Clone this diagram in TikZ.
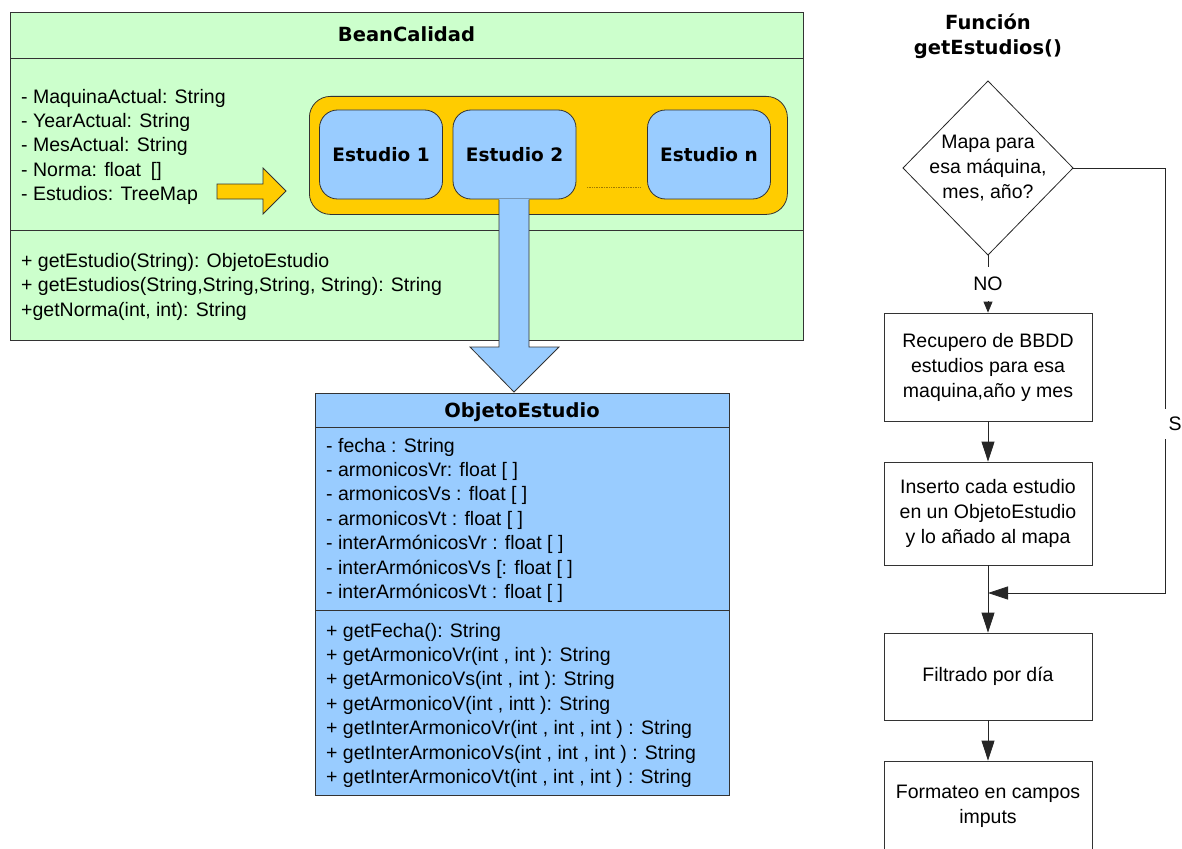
\documentclass[tikz,border=0pt]{standalone}
\usepackage{fontspec}
\setmainfont{Liberation Sans}
\newfontfamily\hdfont{DejaVu Sans}
\usetikzlibrary{arrows.meta}
\definecolor{beangreen}{HTML}{CCFFCC}
\definecolor{objblue}{HTML}{99CCFF}
\definecolor{mapyellow}{HTML}{FFCC00}
\definecolor{edge}{HTML}{333333}
\definecolor{dotcol}{HTML}{A07A00}
\begin{document}
\begin{tikzpicture}[x=1pt,y=-1pt,
  txt/.style={font=\fontsize{19.5}{24}\selectfont, inner sep=0pt, anchor=base west},
  head/.style={font=\hdfont\bfseries\fontsize{19.5}{25}\selectfont, inner sep=0pt},
  flow/.style={font=\fontsize{19.5}{25}\selectfont, align=center, inner sep=0pt},
  boxline/.style={draw=edge, line width=0.8pt},
  classbox/.style={boxline, anchor=north west, inner sep=0pt},
  procbox/.style={flow, boxline, fill=white, minimum width=208pt},
  estudio/.style={boxline, fill=objblue, rounded corners=18pt, minimum width=123pt,
    minimum height=89pt, inner sep=0pt, font=\hdfont\bfseries\fontsize{18.5}{22}\selectfont},
  flowline/.style={draw=black!85, line width=0.8pt},
  flowarrow/.style={flowline, -{Triangle[length=20pt,width=13pt]}},
  smallarrow/.style={flowline, -{Triangle[length=11pt,width=9pt]}}
]
\useasboundingbox (0,0) rectangle (1182,848);

% ---------- class BeanCalidad ----------
\node[classbox, fill=beangreen, minimum width=793pt, minimum height=328pt] (bean) at (10,12) {};
\draw[boxline] (10,58) -- (803,58);
\draw[boxline] (10,230) -- (803,230);
\node[head, anchor=base] (beantitle) at (406.5,42) {BeanCalidad};

\foreach \t [count=\i from 0] in {{- MaquinaActual: String},{- YearActual: String},
    {- MesActual: String},{- Norma: float\enspace[]},{- Estudios: TreeMap}}
  \node[txt] (battr\i) at (21,103+24.4*\i) {\t};
\foreach \t [count=\i from 0] in {{+ getEstudio(String): ObjetoEstudio},
    {+ getEstudios(String,String,String, String): String},{+getNorma(int, int): String}}
  \node[txt] (bmeth\i) at (21,267+24.8*\i) {\t};

% arrow pointing into the map of studies
\draw[boxline, fill=mapyellow] (217,184) -- (263,184) -- (263,168) -- (286,191)
  -- (263,214) -- (263,199) -- (217,199) -- cycle;

% ---------- TreeMap container ----------
\node[classbox, fill=mapyellow, rounded corners=21pt, minimum width=478pt,
  minimum height=118pt] (mapa) at (309,96) {};
\node[estudio] (e1) at (381,154.5) {Estudio 1};
\node[estudio] (e2) at (514.5,154.5) {Estudio 2};
\node[estudio] (en) at (709,154.5) {Estudio n};
% ellipsis between the second and the last study
\draw[dotcol, densely dotted, line width=0.7pt] (587,187) -- (640,187);

% ---------- class ObjetoEstudio ----------
\node[classbox, fill=objblue, minimum width=414pt, minimum height=402pt] (obj) at (315,393) {};
\draw[boxline] (315,427) -- (729,427);
\draw[boxline] (315,610) -- (729,610);
\node[head, anchor=base] (objtitle) at (522,417) {ObjetoEstudio};

\foreach \t [count=\i from 0] in {{- fecha : String},{- armonicosVr: float [ ]},
    {- armonicosVs : float [ ]},{- armonicosVt : float [ ]},
    {- interArmónicosVr : float [ ]},{- interArmónicosVs [: float [ ]},
    {- interArmónicosVt : float [ ]}}
  \node[txt] (oattr\i) at (326,452+24.4*\i) {\t};
\foreach \t [count=\i from 0] in {{+ getFecha(): String},{+ getArmonicoVr(int , int ): String},
    {+ getArmonicoVs(int , int ): String},{+ getArmonicoV(int , intt ): String},
    {+ getInterArmonicoVr(int , int , int ) : String},
    {+ getInterArmonicoVs(int , int , int ) : String},
    {+ getInterArmonicoVt(int , int , int ) : String}}
  \node[txt] (ometh\i) at (326,637+24.4*\i) {\t};

% big arrow from a study to its object
\fill[objblue] (499,199) -- (499,347) -- (470,347) -- (514,392) -- (559,347)
  -- (529,347) -- (529,199) -- cycle;
\draw[boxline, line join=miter] (499,199.5) -- (499,347) -- (470,347) -- (514,392)
  -- (559,347) -- (529,347) -- (529,199.5);

% ---------- flowchart of getEstudios() ----------
\node[head, align=center] (ftitle) at (988,36.5) {Función\\getEstudios()};

\draw[flowline, fill=white] (988,81) coordinate (decN) -- (1073,168) coordinate (decE)
  -- (988,255) coordinate (decS) -- (903,168) coordinate (decW) -- cycle;
\node[flow] (dec) at (988,168) {Mapa para\\esa máquina,\\mes, año?};

\node[procbox, minimum height=108pt] (p1) at (988,367) {Recupero de BBDD\\estudios para esa\\maquina,año y mes};
\node[procbox, minimum height=103pt] (p2) at (988,513.5) {Inserto cada estudio\\en un ObjetoEstudio\\y lo añado al mapa};
\node[procbox, minimum height=87pt] (p3) at (988,676.5) {Filtrado por día};
\node[procbox, minimum height=91pt] (p4) at (988,806.5) {Formateo en campos\\imputs};

\coordinate (join) at (988,593);
\coordinate (sturn) at (1165,593);

\draw[smallarrow] (decS) -- (p1.north);
\node[flow, fill=white, inner xsep=2pt, inner ysep=10pt] (no) at (988,284) {NO};

\draw[flowarrow] (p1.south) -- (p2.north);
\draw[flowarrow] (p2.south) -- (p3.north);
\draw[flowarrow] (p3.south) -- (p4.north);
\draw[flowarrow] (decE) -| (sturn) -- (join);
\node[flow, fill=white, inner xsep=5pt, inner ysep=8pt] (si) at (1175,424) {S};
\end{tikzpicture}
\end{document}
